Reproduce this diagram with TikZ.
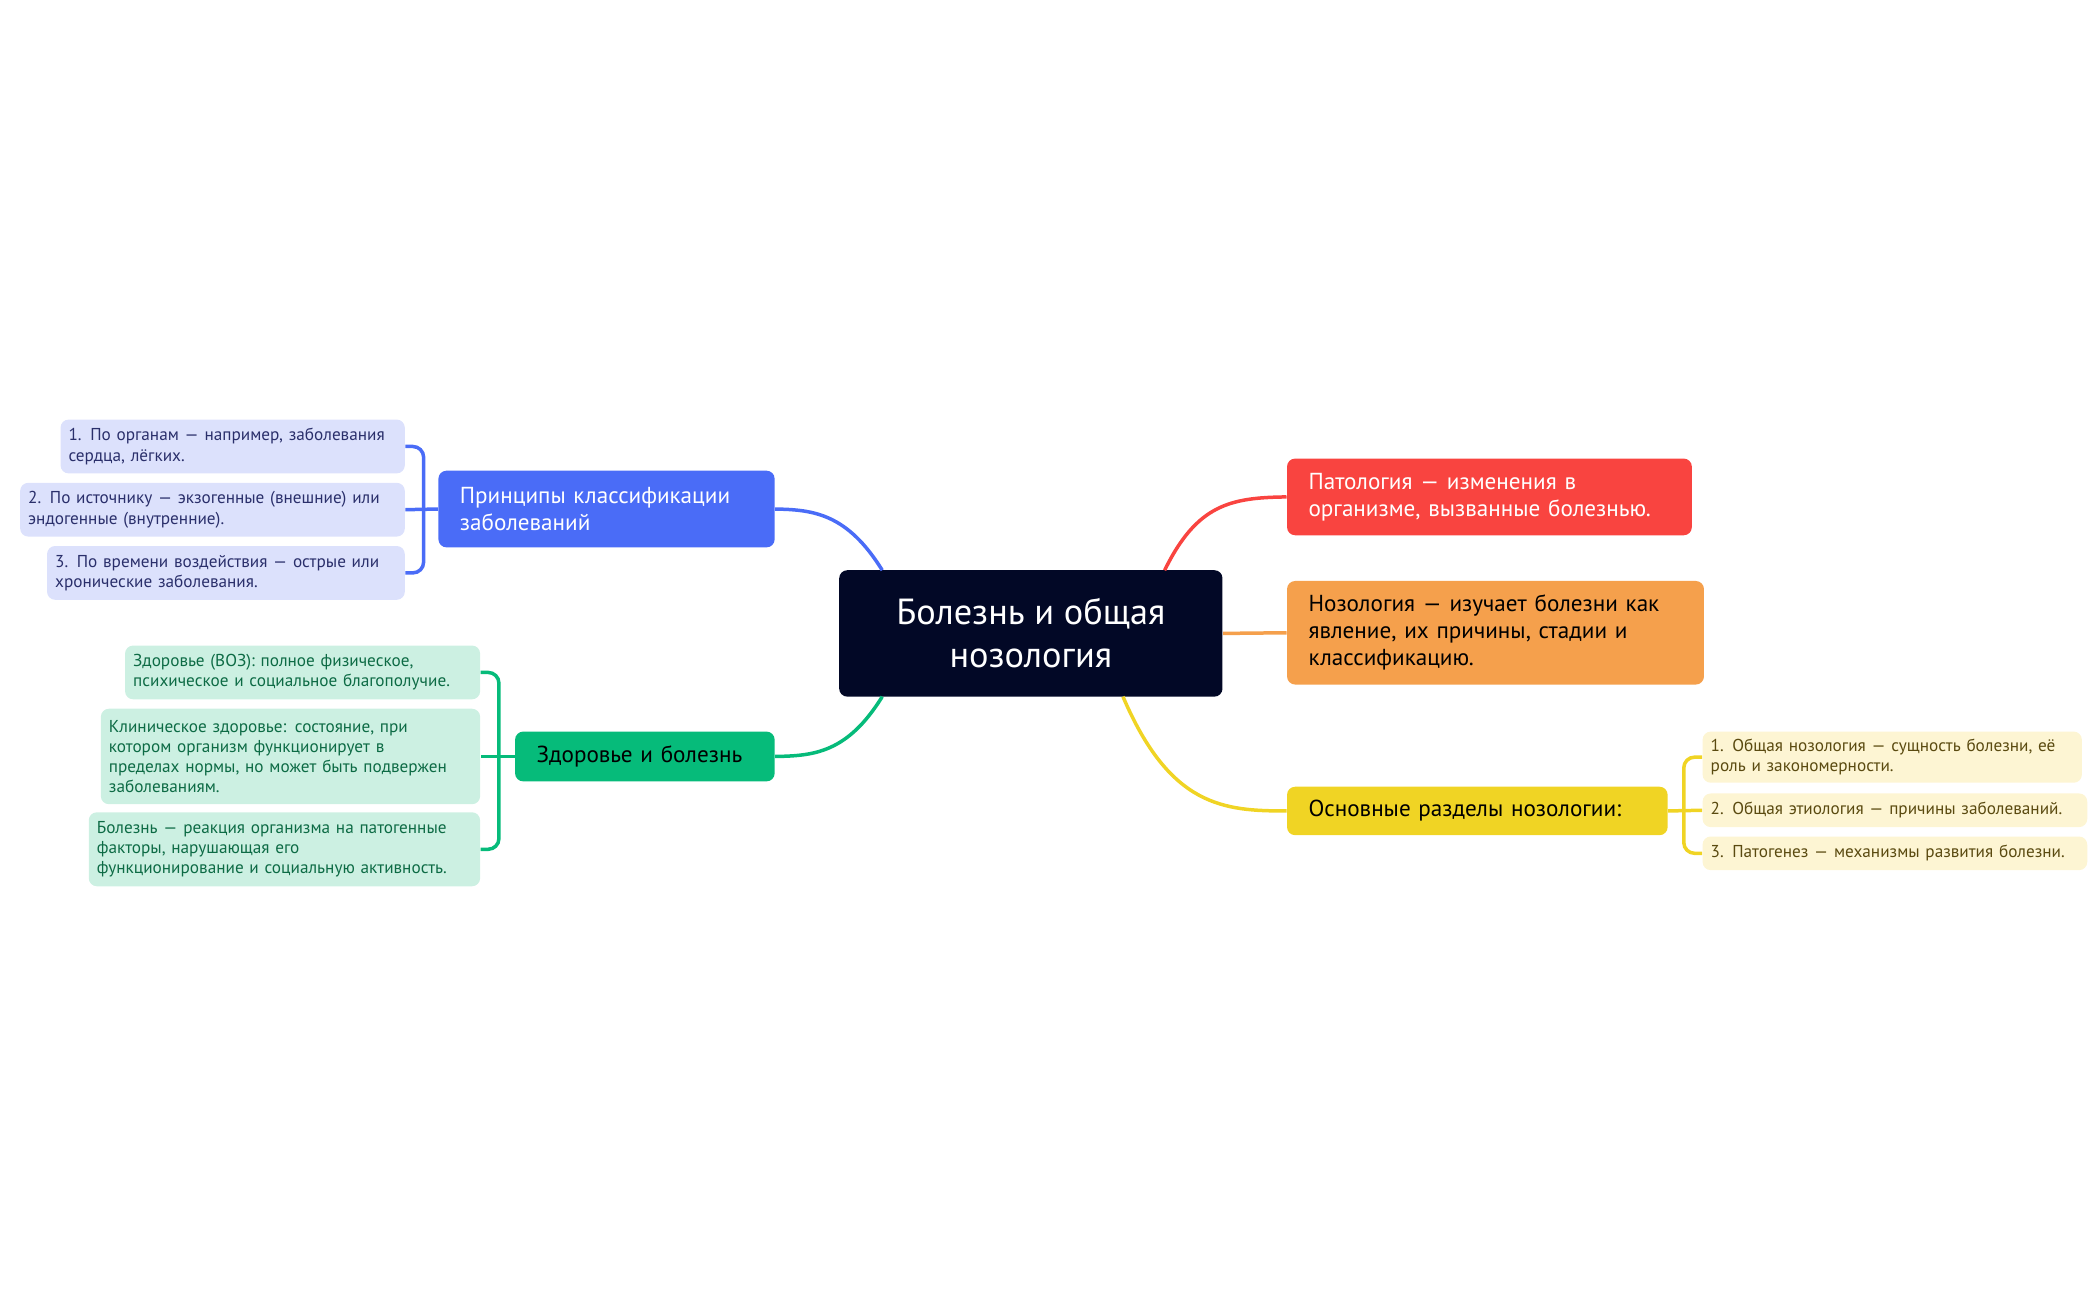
\documentclass[tikz,border=0pt]{standalone}
\usepackage{fontspec}
\setmainfont{PT Sans}
\begin{document}
\begin{tikzpicture}[x=0.5pt,y=-0.5pt,
  box/.style={rounded corners=3pt,align=left,inner ysep=0pt,anchor=center},
  leaf/.style={box,inner xsep=3pt,font=\fontsize{6.4}{7.5}\selectfont},
  main/.style={box,inner xsep=8pt,font=\fontsize{8.6}{10}\selectfont},
  ln/.style={line width=1.3pt}]
\definecolor{cblue}{HTML}{4A6CF7}\definecolor{lblue}{HTML}{DCE1FC}\definecolor{tblue}{HTML}{2A2F6B}
\definecolor{cgreen}{HTML}{06BB7A}\definecolor{lgreen}{HTML}{CCF0E2}\definecolor{tgreen}{HTML}{0D6B45}
\definecolor{cred}{HTML}{F94440}\definecolor{corange}{HTML}{F5A04C}
\definecolor{cyel}{HTML}{F0D424}\definecolor{lyel}{HTML}{FDF5D3}\definecolor{tyel}{HTML}{5A4A10}
\definecolor{croot}{HTML}{020826}
\useasboundingbox (0,0) rectangle (1560,967);
\node[box,fill=croot,text=white,align=center,minimum width=142.5pt,minimum height=47pt,font=\fontsize{13.5}{16}\selectfont] (root) at (766.5,471) {Болезнь и общая\\нозология};
\node[main,fill=cred,text=white,text width=134.5pt,minimum height=28.5pt] (rd) at (1107.5,369.5) {Патология — изменения в\\организме, вызванные болезнью.};
\node[main,fill=corange,text width=139pt,minimum height=38.5pt] (or) at (1112,470.5) {Нозология — изучает болезни как\\явление, их причины, стадии и\\классификацию.};
\node[main,fill=cyel,text width=125.5pt,minimum height=18pt] (ym) at (1098.5,603) {Основные разделы нозологии:};
\node[leaf,fill=lyel,text=tyel,text width=135pt,minimum height=19pt] (y1) at (1407,563) {1. Общая нозология — сущность болезни, её\\роль и закономерности.};
\node[leaf,fill=lyel,text=tyel,text width=137pt,minimum height=12.5pt] (y2) at (1409,602.5) {2. Общая этиология — причины заболеваний.};
\node[leaf,fill=lyel,text=tyel,text width=137pt,minimum height=12.5pt] (y3) at (1409,634.5) {3. Патогенез — механизмы развития болезни.};
\node[main,fill=cblue,text=white,text width=109pt,minimum height=28.5pt] (bm) at (451,378.5) {Принципы классификации\\заболеваний};
\node[leaf,fill=lblue,text=tblue,text width=122pt,minimum height=20pt] (b1) at (173,332) {1. По органам — например, заболевания\\сердца, лёгких.};
\node[leaf,fill=lblue,text=tblue,text width=137pt,minimum height=20pt] (b2) at (158,379) {2. По источнику — экзогенные (внешние) или\\эндогенные (внутренние).};
\node[leaf,fill=lblue,text=tblue,text width=127pt,minimum height=20pt] (b3) at (168,426) {3. По времени воздействия — острые или\\хронические заболевания.};
\node[main,fill=cgreen,text width=80.5pt,minimum height=18.5pt] (gm) at (479.5,562.5) {Здоровье и болезнь};
\node[leaf,fill=lgreen,text=tgreen,text width=126pt,minimum height=20pt] (g1) at (225,500) {Здоровье (ВОЗ): полное физическое,\\психическое и социальное благополучие.};
\node[leaf,fill=lgreen,text=tgreen,text width=135pt,minimum height=35.5pt] (g2) at (216,562.5) {Клиническое здоровье: состояние, при\\котором организм функционирует в\\пределах нормы, но может быть подвержен\\заболеваниям.};
\node[leaf,fill=lgreen,text=tgreen,text width=139.5pt,minimum height=27.5pt] (g3) at (211.5,631.5) {Болезнь — реакция организма на патогенные\\факторы, нарушающая его\\функционирование и социальную активность.};
% root anchors
\coordinate (rr) at (866,424); \coordinate (rb) at (656,424);
\coordinate (rg) at (656,518); \coordinate (ry) at (835,518);
\coordinate (bx) at (315,0); \coordinate (gx) at (371,0); \coordinate (yx) at (1252,0);
\begin{scope}[on background layer/.try]
\draw[ln,cred] (rr) .. controls (890,375) and (915,370) .. (rd.west);
\draw[ln,corange] (root.east) -- (or.west);
\draw[ln,cyel] (ry) .. controls (870,600) and (910,603) .. (ym.west);
\draw[ln,cblue] (rb) .. controls (630,382) and (605,379) .. (bm.east);
\draw[ln,cgreen] (rg) .. controls (630,560) and (605,562) .. (gm.east);
\end{scope}
\draw[ln,cblue,rounded corners=4pt] (b1.east) -- (b1.east -| bx) -- (b3.east -| bx) -- (b3.east);
\draw[ln,cblue] (bm.west) -- (b2.east);
\draw[ln,cgreen,rounded corners=4pt] (g1.east) -- (g1.east -| gx) -- (g3.east -| gx) -- (g3.east);
\draw[ln,cgreen] (gm.west) -- (g2.east);
\draw[ln,cyel,rounded corners=4pt] (y1.west) -- (y1.west -| yx) -- (y3.west -| yx) -- (y3.west);
\draw[ln,cyel] (ym.east) -- (y2.west);
\end{tikzpicture}
\end{document}
